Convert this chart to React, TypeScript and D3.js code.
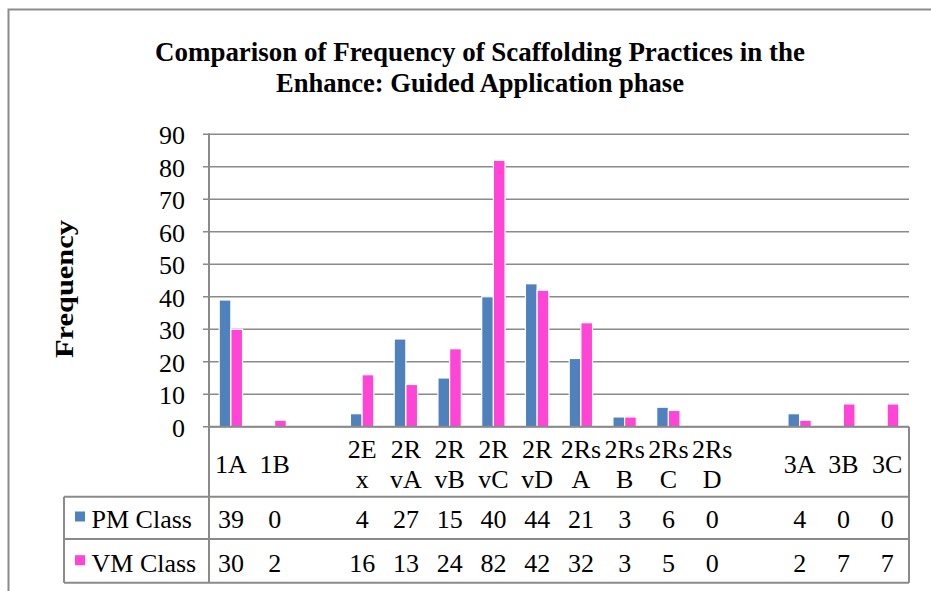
import React from "react";
import * as d3 from "d3";

const categories = ["1A", "1B", "", "2Ex", "2RvA", "2RvB", "2RvC", "2RvD", "2RsA", "2RsB", "2RsC", "2RsD", " ", "3A", "3B", "3C"];
const categoryLines: string[][] = [
  ["1A"], ["1B"], [], ["2E", "x"], ["2R", "vA"], ["2R", "vB"], ["2R", "vC"], ["2R", "vD"],
  ["2Rs", "A"], ["2Rs", "B"], ["2Rs", "C"], ["2Rs", "D"], [], ["3A"], ["3B"], ["3C"],
];
const pmClass: (number | null)[] = [39, 0, null, 4, 27, 15, 40, 44, 21, 3, 6, 0, null, 4, 0, 0];
const vmClass: (number | null)[] = [30, 2, null, 16, 13, 24, 82, 42, 32, 3, 5, 0, null, 2, 7, 7];
const seriesNames = ["PM Class", "VM Class"];
const seriesColors = ["#4F81BD", "#FF45D6"];
const yTicks = [0, 10, 20, 30, 40, 50, 60, 70, 80, 90];
const titleLines = ["Comparison of Frequency of Scaffolding Practices in the", "Enhance: Guided Application phase"];
const yAxisTitle = "Frequency";

export default function App() {
  const W = 931, H = 591;
  const left = 209, right = 909, top = 134.3, bottom = 426.7;
  const row1 = 496.7, row2 = 539, row3 = 582.7, legendLeft = 64;
  const font = "'Liberation Serif', 'Times New Roman', serif";
  const grid = "#8a8a8a";

  const x = d3.scaleBand<number>().domain(d3.range(categories.length)).range([left, right]).padding(0);
  const y = d3.scaleLinear().domain([0, 90]).range([bottom, top]);
  const bw = x.bandwidth();
  const inner = d3.scaleBand<number>().domain([0, 1]).range([bw * 0.233, bw * 0.767]).padding(0);
  const series = [pmClass, vmClass];

  return (
    <svg width={W} height={H} style={{ position: "absolute", left: 0, top: 0 }} fontFamily={font}>
      <rect x={0} y={0} width={W} height={H} fill="#fff" />
      {/* outer frame */}
      <path d={`M8.5,${H} V9.5 H${W}`} fill="none" stroke="#8c8c8c" strokeWidth={2} />
      {/* title */}
      {titleLines.map((t, i) => (
        <text key={i} x={480} y={i === 0 ? 61 : 91.7} textAnchor="middle" fontWeight="bold" fontSize={27}
          textLength={i === 0 ? 650 : 408} lengthAdjust="spacingAndGlyphs" fill="#000">{t}</text>
      ))}
      {/* y-axis title */}
      <text transform={`translate(73,289) rotate(-90)`} textAnchor="middle" fontWeight="bold" fontSize={26}
        textLength={138} lengthAdjust="spacingAndGlyphs">{yAxisTitle}</text>
      {/* gridlines */}
      {yTicks.map((t) => (
        <g key={t}>
          <line x1={left - 6} x2={right} y1={y(t)} y2={y(t)} stroke={grid} strokeWidth={1.6} />
          <text x={185} y={y(t) + 10} textAnchor="end" fontSize={26}>{t}</text>
        </g>
      ))}
      {/* bars */}
      {series.map((vals, s) =>
        vals.map((v, i) =>
          v === null || v === 0 ? null : (
            <rect key={`${s}-${i}`} x={(x(i) as number) + (inner(s) as number)} y={y(v)}
              width={inner.bandwidth()} height={y(0) - y(v)} fill={seriesColors[s]}
              stroke="#fff" strokeWidth={1.2} />
          )
        )
      )}
      {/* axis lines and table */}
      <line x1={left} x2={right} y1={bottom} y2={bottom} stroke={grid} strokeWidth={2} />
      <line x1={left} x2={left} y1={top - 1} y2={row3} stroke={grid} strokeWidth={2} />
      <line x1={right} x2={right} y1={bottom} y2={row3} stroke={grid} strokeWidth={2} />
      <line x1={legendLeft} x2={right} y1={row1} y2={row1} stroke={grid} strokeWidth={2} />
      <line x1={legendLeft} x2={right} y1={row2} y2={row2} stroke={grid} strokeWidth={2} />
      <line x1={legendLeft} x2={right} y1={row3} y2={row3} stroke={grid} strokeWidth={2} />
      <line x1={legendLeft} x2={legendLeft} y1={row1} y2={row3} stroke={grid} strokeWidth={2} />
      {/* category labels */}
      {categoryLines.map((lines, i) => {
        const cx = (x(i) as number) + bw / 2;
        if (lines.length === 1) {
          return <text key={i} x={cx} y={472.7} textAnchor="middle" fontSize={26}>{lines[0]}</text>;
        }
        return lines.map((l, j) => (
          <text key={`${i}-${j}`} x={cx} y={j === 0 ? 458 : 487.5} textAnchor="middle" fontSize={26}>{l}</text>
        ));
      })}
      {/* legend rows */}
      {seriesNames.map((n, s) => {
        const base = s === 0 ? 528 : 571.7;
        return (
          <g key={n}>
            <rect x={75} y={base - 16.5} width={10} height={10} fill={seriesColors[s]} />
            <text x={91.5} y={base} fontSize={26}>{n}</text>
            {series[s].map((v, i) =>
              v === null ? null : (
                <text key={i} x={(x(i) as number) + bw / 2} y={base} textAnchor="middle" fontSize={26}>{v}</text>
              )
            )}
          </g>
        );
      })}
    </svg>
  );
}
